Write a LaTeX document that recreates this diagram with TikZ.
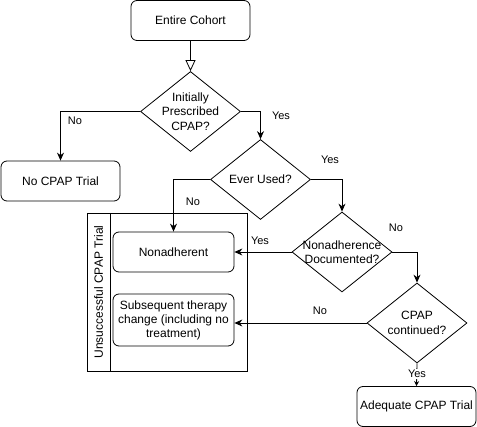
\documentclass[tikz,border=0pt]{standalone}
\usepackage{fontspec}
\setmainfont{Liberation Sans}
\usetikzlibrary{shapes.geometric,arrows.meta}
\begin{document}
\begin{tikzpicture}[x=1pt,y=-1pt,
  box/.style={draw,rounded corners=6pt,line width=0.8pt,align=center,inner sep=0pt,font=\fontsize{12}{14}\selectfont},
  dia/.style={draw,diamond,line width=0.8pt,inner sep=0pt,minimum width=100pt,minimum height=80pt},
  dtext/.style={align=center,font=\fontsize{12}{14.5}\selectfont},
  lbl/.style={font=\fontsize{11}{13}\selectfont,inner sep=1pt},
  conn/.style={line width=0.8pt,-{Stealth[length=8pt,width=7pt]}},
]
\useasboundingbox (0,0) rectangle (477,427);
\node[box,minimum width=119pt,minimum height=40pt] (ec) at (190.5,20.5) {Entire Cohort};
\node[dia] (d1) at (190.5,111.5) {};
\node[dtext] at (d1) {Initially\\Prescribed\\CPAP?};
\node[box,minimum width=119pt,minimum height=40pt] (nocpap) at (60.5,181) {No CPAP Trial};
\node[dia] (d2) at (260.5,179.5) {};
\node[dtext] at (d2) {Ever Used?};
\node[dia] (d3) at (342,252) {};
\node[dtext] at (d3) {Nonadherence\\Documented?};
\node[dia] (d4) at (417,323) {};
\node[dtext] at (d4) {CPAP\\continued?};
\node[box,minimum width=119pt,minimum height=40pt] (adeq) at (416.5,406.5) {Adequate CPAP Trial};
% swimlane
\draw[line width=0.8pt] (87,213) rectangle (247,371);
\draw[line width=0.8pt] (110,213) -- (110,371);
\node[rotate=90,font=\fontsize{12}{14}\selectfont] (lane) at (98.5,292) {Unsuccessful CPAP Trial};
\node[box,minimum width=121pt,minimum height=40pt] (nonadh) at (173.5,252) {Nonadherent};
\node[box,minimum width=121pt,minimum height=52pt] (subs) at (173.5,320) {Subsequent therapy\\change (including no\\treatment)};
% connectors
\draw[line width=0.8pt,-{Triangle[open,length=11pt,width=10pt]}] (ec.south) -- (d1.north);
\draw[conn] (d1.west) -| (nocpap.north);
\draw[conn] (d1.east) -| (d2.north);
\draw[conn] (d2.east) -| (d3.north);
\draw[conn] (d2.west) -| (nonadh.north);
\draw[conn] (d3.west) -- (nonadh.east);
\draw[conn] (d3.east) -| (d4.north);
\draw[conn] (d4.west) -- (d4.west -| subs.east);
\draw[line width=0.8pt,-{Stealth[length=5pt,width=5pt]}] (d4.south) -- (adeq.north);
% labels
\node[lbl] at (75,121) {No};
\node[lbl] at (281,116) {Yes};
\node[lbl] at (330,160) {Yes};
\node[lbl] at (193,202) {No};
\node[lbl] at (260,241) {Yes};
\node[lbl] at (396,228) {No};
\node[lbl] at (320,311) {No};
\node[lbl,fill=white] at (417,374) {Yes};
\end{tikzpicture}
\end{document}
